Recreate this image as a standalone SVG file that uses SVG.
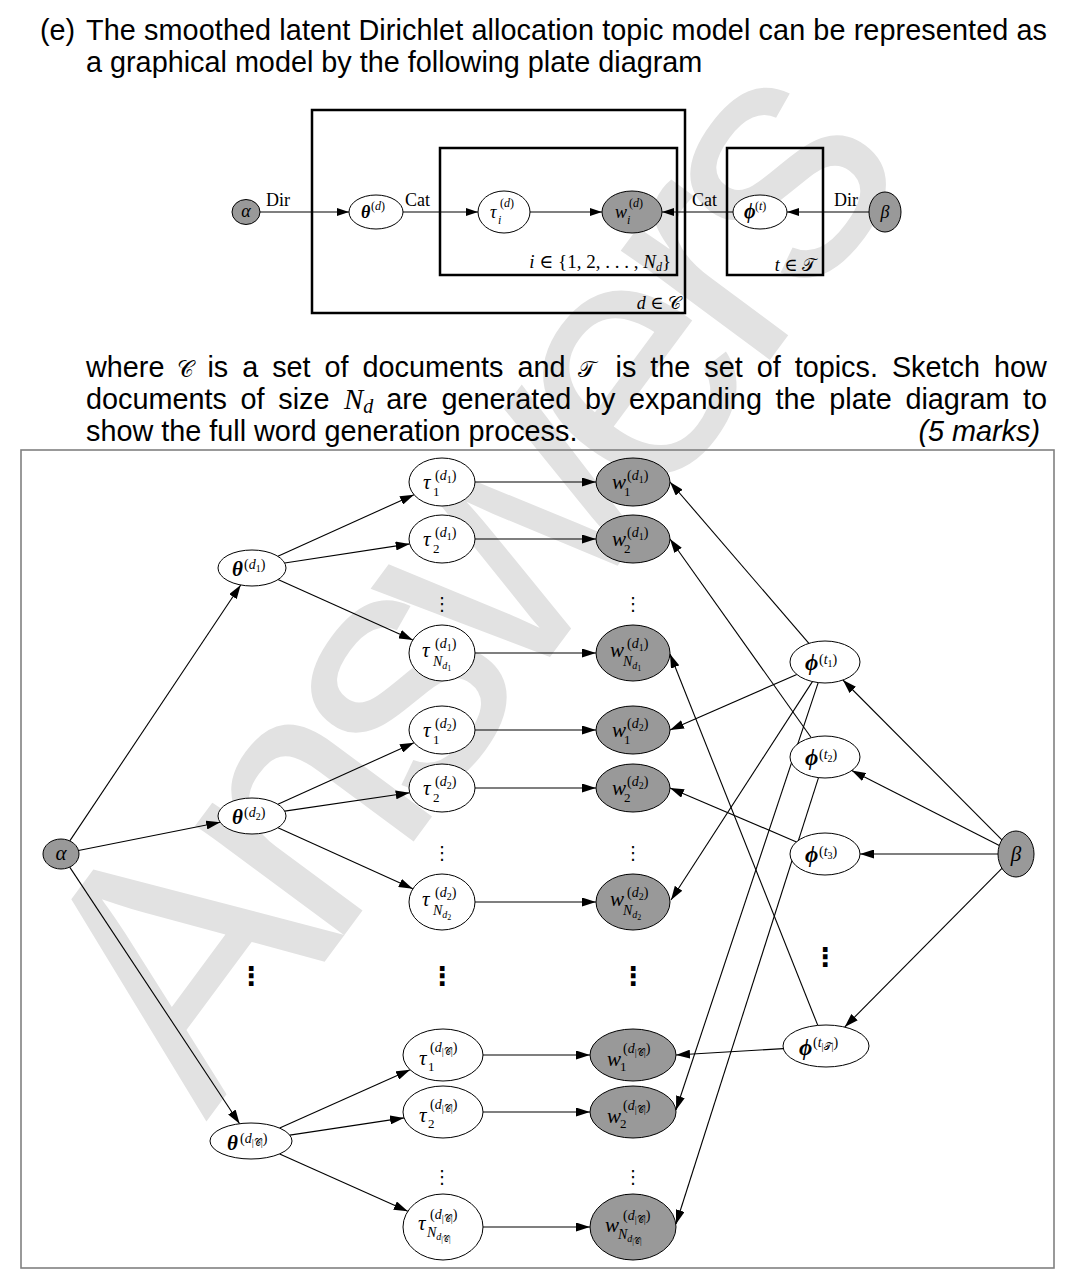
<svg xmlns="http://www.w3.org/2000/svg" width="1074" height="1284" viewBox="0 0 1074 1284">
<style>
.h{font-family:"Liberation Sans",Arial,sans-serif;font-size:28.8px;fill:#000}
.m,.nd text,.tl{font-family:"Liberation Serif","DejaVu Serif",serif;fill:#000}
.cal{font-family:"DejaVu Serif","DejaVu Sans","Liberation Serif",serif;font-style:normal}
.it{font-style:italic}
.up{font-style:normal}
.b20{font-size:21px;font-style:italic}
.bi{font-size:21px;font-style:italic;font-weight:bold}
.phi{font-size:23px;font-style:italic;font-weight:bold}
.s14{font-size:14px}
.s13{font-size:13px}
.s10{font-size:10px}
.s8{font-size:8px}
.t18{font-size:18px}
.t12{font-size:12px}
.wh{fill:#fff;stroke:#000;stroke-width:1}
.gr{fill:#999;stroke:#000;stroke-width:1}
.plate{fill:none;stroke:#000;stroke-width:2.5}
.e{stroke:#000;stroke-width:1.1;fill:none;marker-end:url(#arr)}
.et{stroke:#000;stroke-width:1.1;fill:none;marker-end:url(#arr2)}
.dots{font-family:"DejaVu Sans",sans-serif;text-anchor:middle;fill:#000}
</style>
<defs>
<marker id="arr" markerUnits="userSpaceOnUse" markerWidth="14" markerHeight="9" refX="14" refY="4.5" orient="auto"><path d="M0,0 L14,4.5 L0,9 Z" fill="#000"/></marker>
<marker id="arr2" markerUnits="userSpaceOnUse" markerWidth="12" markerHeight="8" refX="12" refY="4" orient="auto"><path d="M0,0 L12,4 L0,8 Z" fill="#000"/></marker>
</defs>
<rect width="1074" height="1284" fill="#fff"/>
<text id="watermark" x="206" y="1122" transform="rotate(-53.5 206 1122)" font-family="Liberation Sans,Arial,sans-serif" font-size="350" fill="#e2e2e2" textLength="1190" lengthAdjust="spacing">Answers</text>

<g id="question">
<text class="h" x="40" y="40">(e)</text>
<text class="h" x="86" y="40" textLength="961" lengthAdjust="spacing">The smoothed latent Dirichlet allocation topic model can be represented as</text>
<text class="h" x="86" y="72">a graphical model by the following plate diagram</text>
<text class="h" y="377"><tspan x="86">where</tspan><tspan x="177" class="cal" font-size="23">𝒞</tspan><tspan x="207.4">is</tspan><tspan x="242.2">a</tspan><tspan x="272.2">set</tspan><tspan x="324.6">of</tspan><tspan x="362.6">documents</tspan><tspan x="517.5">and</tspan><tspan x="578" class="cal" font-size="23">𝒯</tspan><tspan x="615.5">is</tspan><tspan x="650.3">the</tspan><tspan x="704.3">set</tspan><tspan x="756.7">of</tspan><tspan x="794.7">topics.</tspan><tspan x="891.9">Sketch</tspan><tspan x="993.9">how</tspan></text>
<text class="h" y="409"><tspan x="86">documents</tspan><tspan x="240.6">of</tspan><tspan x="278.3">size</tspan><tspan x="344" class="m it">N</tspan><tspan class="m it" font-size="20" dy="4">d</tspan><tspan x="386.2" y="409">are</tspan><tspan x="441.5">generated</tspan><tspan x="584.9">by</tspan><tspan x="629">expanding</tspan><tspan x="775.6">the</tspan><tspan x="829.3">plate</tspan><tspan x="905.4">diagram</tspan><tspan x="1023.1">to</tspan></text>
<text class="h" x="86" y="441">show the full word generation process.</text>
<text class="h it" x="1040" y="441" text-anchor="end">(5 marks)</text>
</g>

<g id="plate-diagram">
<rect id="plate-d" class="plate" x="312" y="110" width="373" height="203"/>
<rect id="plate-i" class="plate" x="440" y="148" width="237" height="127"/>
<rect id="plate-t" class="plate" x="727" y="148" width="96" height="127"/>
<text class="tl" font-size="19" x="671" y="268" text-anchor="end"><tspan class="it">i</tspan> ∈ {1, 2,  . . . ,  <tspan class="it">N</tspan><tspan class="it t12" dy="3">d</tspan><tspan dy="-3">}</tspan></text>
<text class="tl t18" x="816" y="271" text-anchor="end"><tspan class="it">t</tspan> ∈ <tspan class="cal">𝒯</tspan></text>
<text class="tl t18" x="681" y="309" text-anchor="end"><tspan class="it">d</tspan> ∈ <tspan class="cal">𝒞</tspan></text>
<g id="top-connectors">
<line class="et" x1="260" y1="212" x2="349" y2="212"/>
<line class="et" x1="403" y1="212" x2="478" y2="212"/>
<line class="et" x1="530" y1="212" x2="602" y2="212"/>
<line class="et" x1="733" y1="212" x2="662" y2="212"/>
<line class="et" x1="869" y1="212" x2="787" y2="212"/>
<text class="tl t18" x="266" y="206">Dir</text>
<text class="tl t18" x="405" y="206">Cat</text>
<text class="tl t18" x="692" y="206">Cat</text>
<text class="tl t18" x="834" y="206">Dir</text>
</g>
<g id="top-alpha" class="nd" transform="translate(246,212)"><ellipse class="gr" rx="14" ry="12.5"/><text class="it t18" x="0" y="5" text-anchor="middle">α</text></g>
<g id="top-theta" class="nd" transform="translate(376,212)"><ellipse class="wh" rx="27" ry="17"/><text class="t18" x="-15" y="6" font-style="italic" font-weight="bold">θ</text><text class="t12" x="-5" y="-2">(<tspan class="it">d</tspan>)</text></g>
<g id="top-tau" class="nd" transform="translate(504,212)"><ellipse class="wh" rx="26" ry="21"/><text class="t18 it" x="-14" y="6">τ</text><text class="t12 it" x="-6" y="12">i</text><text class="t12" x="-4" y="-5">(<tspan class="it">d</tspan>)</text></g>
<g id="top-w" class="nd" transform="translate(632,212)"><ellipse class="gr" rx="30" ry="21"/><text class="t18 it" x="-17" y="6">w</text><text class="t12 it" x="-5" y="12">i</text><text class="t12" x="-3" y="-5">(<tspan class="it">d</tspan>)</text></g>
<g id="top-phi" class="nd" transform="translate(760,212)"><ellipse class="wh" rx="27" ry="17"/><text x="-16" y="6" font-size="20" font-style="italic" font-weight="bold">ϕ</text><text class="t12" x="-5" y="-2">(<tspan class="it">t</tspan>)</text></g>
<g id="top-beta" class="nd" transform="translate(885,212)"><ellipse class="gr" rx="16" ry="20"/><text class="it t18" x="0" y="6" text-anchor="middle">β</text></g>
</g>

<rect id="answer-frame" x="21" y="450" width="1033" height="818" fill="none" stroke="#808080" stroke-width="1.6"/>

<g id="connectors">
<line class="e" x1="69.8" y1="840.9" x2="240.7" y2="585"/>
<line class="e" x1="78.5" y1="850.5" x2="220.2" y2="822.3"/>
<line class="e" x1="69.7" y1="867.1" x2="239.6" y2="1123.7"/>
<line class="e" x1="277.9" y1="556.3" x2="414" y2="494.7"/>
<line class="e" x1="284.7" y1="563" x2="409.7" y2="543.9"/>
<line class="e" x1="278" y1="579.6" x2="412.8" y2="639.9"/>
<line class="e" x1="277.9" y1="804.3" x2="414" y2="742.7"/>
<line class="e" x1="284.7" y1="811.1" x2="409.7" y2="792.8"/>
<line class="e" x1="278" y1="827.7" x2="412.8" y2="888.8"/>
<line class="e" x1="279.7" y1="1128.1" x2="410.1" y2="1069.8"/>
<line class="e" x1="289.8" y1="1135.1" x2="404" y2="1117.9"/>
<line class="e" x1="279.7" y1="1153.9" x2="407.8" y2="1211.3"/>
<line class="e" x1="475" y1="482" x2="596" y2="482"/>
<line class="e" x1="475" y1="539" x2="596" y2="539"/>
<line class="e" x1="475" y1="653" x2="596" y2="653"/>
<line class="e" x1="475" y1="730" x2="596" y2="730"/>
<line class="e" x1="475" y1="788" x2="596" y2="788"/>
<line class="e" x1="475" y1="902" x2="596" y2="902"/>
<line class="e" x1="483" y1="1055" x2="590" y2="1055"/>
<line class="e" x1="483" y1="1112" x2="590" y2="1112"/>
<line class="e" x1="483" y1="1227" x2="590" y2="1227"/>
<line class="e" x1="808.9" y1="643.4" x2="670" y2="482"/>
<line class="e" x1="796.8" y1="674.4" x2="670" y2="730"/>
<line class="e" x1="812.4" y1="681.6" x2="671" y2="900"/>
<line class="e" x1="818.2" y1="682.6" x2="676" y2="1110"/>
<line class="e" x1="811.3" y1="737.7" x2="670" y2="539"/>
<line class="e" x1="818.5" y1="777.6" x2="676" y2="1224"/>
<line class="e" x1="796.5" y1="841.9" x2="670" y2="788"/>
<line class="e" x1="783.3" y1="1048.6" x2="676" y2="1055"/>
<line class="e" x1="817.8" y1="1025.4" x2="670" y2="654"/>
<line class="e" x1="1001.9" y1="839.8" x2="842.9" y2="680"/>
<line class="e" x1="999.3" y1="845.5" x2="851.7" y2="770.6"/>
<line class="e" x1="998" y1="854" x2="860" y2="854"/>
<line class="e" x1="1001.9" y1="868.3" x2="844.7" y2="1027.1"/>
</g>

<g id="ellipses">
<text class="dots" x="442" y="610" font-size="18">⋮</text>
<text class="dots" x="633" y="610" font-size="18">⋮</text>
<text class="dots" x="442" y="859" font-size="18">⋮</text>
<text class="dots" x="633" y="859" font-size="18">⋮</text>
<text class="dots" x="442" y="1183" font-size="18">⋮</text>
<text class="dots" x="633" y="1183" font-size="18">⋮</text>
<text class="dots" x="251" y="985" font-size="26" font-weight="bold">⋮</text>
<text class="dots" x="442" y="985" font-size="26" font-weight="bold">⋮</text>
<text class="dots" x="633" y="985" font-size="26" font-weight="bold">⋮</text>
<text class="dots" x="825" y="966" font-size="26" font-weight="bold">⋮</text>
</g>

<g id="alpha" class="nd" transform="translate(61,854)"><ellipse class="gr" rx="18" ry="15"/><text class="b20" x="0" y="6" text-anchor="middle">α</text></g>
<g id="beta" class="nd" transform="translate(1016,854)"><ellipse class="gr" rx="18" ry="23"/><text class="b20" x="0" y="7" text-anchor="middle">β</text></g>

<g id="theta-d1" class="nd" transform="translate(252,568)"><ellipse class="wh" rx="34" ry="18"/><text class="bi" x="-20" y="8">θ</text><text class="s14" x="-8" y="1">(<tspan class="it">d</tspan><tspan class="s10" dy="3">1</tspan><tspan dy="-3">)</tspan></text></g>
<g id="theta-d2" class="nd" transform="translate(252,816)"><ellipse class="wh" rx="34" ry="18"/><text class="bi" x="-20" y="8">θ</text><text class="s14" x="-8" y="1">(<tspan class="it">d</tspan><tspan class="s10" dy="3">2</tspan><tspan dy="-3">)</tspan></text></g>
<g id="theta-dC" class="nd" transform="translate(251,1141)"><ellipse class="wh" rx="41" ry="18"/><text class="bi" x="-24" y="9">θ</text><text class="s14" x="-11" y="2">(<tspan class="it">d</tspan><tspan class="s10" dy="3">|<tspan class="cal">𝒞</tspan>|</tspan><tspan dy="-3">)</tspan></text></g>

<g id="tau-d1-1" class="nd" transform="translate(442,482)"><ellipse class="wh" rx="33" ry="24"/><text class="b20" x="-19" y="7">τ</text><text class="s13" x="-9" y="14">1</text><text class="s14" x="-7" y="-2">(<tspan class="it">d</tspan><tspan class="s10" dy="3">1</tspan><tspan dy="-3">)</tspan></text></g>
<g id="tau-d1-2" class="nd" transform="translate(442,539)"><ellipse class="wh" rx="33" ry="24"/><text class="b20" x="-19" y="7">τ</text><text class="s13" x="-9" y="14">2</text><text class="s14" x="-7" y="-2">(<tspan class="it">d</tspan><tspan class="s10" dy="3">1</tspan><tspan dy="-3">)</tspan></text></g>
<g id="tau-d1-N" class="nd" transform="translate(442,653)"><ellipse class="wh" rx="33" ry="28"/><text class="b20" x="-20" y="4">τ</text><text class="s14" x="-7" y="-5">(<tspan class="it">d</tspan><tspan class="s10" dy="3">1</tspan><tspan dy="-3">)</tspan></text><text class="s14 it" x="-9" y="13">N<tspan class="s10" dy="3">d</tspan><tspan class="s8 up" dy="2">1</tspan></text></g>
<g id="tau-d2-1" class="nd" transform="translate(442,730)"><ellipse class="wh" rx="33" ry="24"/><text class="b20" x="-19" y="7">τ</text><text class="s13" x="-9" y="14">1</text><text class="s14" x="-7" y="-2">(<tspan class="it">d</tspan><tspan class="s10" dy="3">2</tspan><tspan dy="-3">)</tspan></text></g>
<g id="tau-d2-2" class="nd" transform="translate(442,788)"><ellipse class="wh" rx="33" ry="24"/><text class="b20" x="-19" y="7">τ</text><text class="s13" x="-9" y="14">2</text><text class="s14" x="-7" y="-2">(<tspan class="it">d</tspan><tspan class="s10" dy="3">2</tspan><tspan dy="-3">)</tspan></text></g>
<g id="tau-d2-N" class="nd" transform="translate(442,902)"><ellipse class="wh" rx="33" ry="28"/><text class="b20" x="-20" y="4">τ</text><text class="s14" x="-7" y="-5">(<tspan class="it">d</tspan><tspan class="s10" dy="3">2</tspan><tspan dy="-3">)</tspan></text><text class="s14 it" x="-9" y="13">N<tspan class="s10" dy="3">d</tspan><tspan class="s8 up" dy="2">2</tspan></text></g>
<g id="tau-dC-1" class="nd" transform="translate(443,1055)"><ellipse class="wh" rx="40" ry="26"/><text class="b20" x="-24" y="10">τ</text><text class="s13" x="-15" y="16">1</text><text class="s14" x="-13" y="-3">(<tspan class="it">d</tspan><tspan class="s10" dy="3">|<tspan class="cal">𝒞</tspan>|</tspan><tspan dy="-3">)</tspan></text></g>
<g id="tau-dC-2" class="nd" transform="translate(443,1112)"><ellipse class="wh" rx="40" ry="26"/><text class="b20" x="-24" y="10">τ</text><text class="s13" x="-15" y="16">2</text><text class="s14" x="-13" y="-3">(<tspan class="it">d</tspan><tspan class="s10" dy="3">|<tspan class="cal">𝒞</tspan>|</tspan><tspan dy="-3">)</tspan></text></g>
<g id="tau-dC-N" class="nd" transform="translate(443,1227)"><ellipse class="wh" rx="40" ry="33"/><text class="b20" x="-25" y="3">τ</text><text class="s14" x="-13" y="-8">(<tspan class="it">d</tspan><tspan class="s10" dy="3">|<tspan class="cal">𝒞</tspan>|</tspan><tspan dy="-3">)</tspan></text><text class="s14 it" x="-16" y="10">N<tspan class="s10" dy="3">d</tspan><tspan class="s8 up" dy="2">|<tspan class="cal">𝒞</tspan>|</tspan></text></g>

<g id="w-d1-1" class="nd" transform="translate(633,482)"><ellipse class="gr" rx="37" ry="24"/><text class="b20" x="-21" y="7">w</text><text class="s13" x="-9" y="14">1</text><text class="s14" x="-6" y="-2">(<tspan class="it">d</tspan><tspan class="s10" dy="3">1</tspan><tspan dy="-3">)</tspan></text></g>
<g id="w-d1-2" class="nd" transform="translate(633,539)"><ellipse class="gr" rx="37" ry="24"/><text class="b20" x="-21" y="7">w</text><text class="s13" x="-9" y="14">2</text><text class="s14" x="-6" y="-2">(<tspan class="it">d</tspan><tspan class="s10" dy="3">1</tspan><tspan dy="-3">)</tspan></text></g>
<g id="w-d1-N" class="nd" transform="translate(633,653)"><ellipse class="gr" rx="37" ry="28"/><text class="b20" x="-23" y="4">w</text><text class="s14" x="-6" y="-5">(<tspan class="it">d</tspan><tspan class="s10" dy="3">1</tspan><tspan dy="-3">)</tspan></text><text class="s14 it" x="-10" y="13">N<tspan class="s10" dy="3">d</tspan><tspan class="s8 up" dy="2">1</tspan></text></g>
<g id="w-d2-1" class="nd" transform="translate(633,730)"><ellipse class="gr" rx="37" ry="24"/><text class="b20" x="-21" y="7">w</text><text class="s13" x="-9" y="14">1</text><text class="s14" x="-6" y="-2">(<tspan class="it">d</tspan><tspan class="s10" dy="3">2</tspan><tspan dy="-3">)</tspan></text></g>
<g id="w-d2-2" class="nd" transform="translate(633,788)"><ellipse class="gr" rx="37" ry="24"/><text class="b20" x="-21" y="7">w</text><text class="s13" x="-9" y="14">2</text><text class="s14" x="-6" y="-2">(<tspan class="it">d</tspan><tspan class="s10" dy="3">2</tspan><tspan dy="-3">)</tspan></text></g>
<g id="w-d2-N" class="nd" transform="translate(633,902)"><ellipse class="gr" rx="37" ry="28"/><text class="b20" x="-23" y="4">w</text><text class="s14" x="-6" y="-5">(<tspan class="it">d</tspan><tspan class="s10" dy="3">2</tspan><tspan dy="-3">)</tspan></text><text class="s14 it" x="-10" y="13">N<tspan class="s10" dy="3">d</tspan><tspan class="s8 up" dy="2">2</tspan></text></g>
<g id="w-dC-1" class="nd" transform="translate(633,1055)"><ellipse class="gr" rx="43" ry="26"/><text class="b20" x="-26" y="11">w</text><text class="s13" x="-13" y="16">1</text><text class="s14" x="-10" y="-2">(<tspan class="it">d</tspan><tspan class="s10" dy="3">|<tspan class="cal">𝒞</tspan>|</tspan><tspan dy="-3">)</tspan></text></g>
<g id="w-dC-2" class="nd" transform="translate(633,1112)"><ellipse class="gr" rx="43" ry="26"/><text class="b20" x="-26" y="11">w</text><text class="s13" x="-13" y="16">2</text><text class="s14" x="-10" y="-2">(<tspan class="it">d</tspan><tspan class="s10" dy="3">|<tspan class="cal">𝒞</tspan>|</tspan><tspan dy="-3">)</tspan></text></g>
<g id="w-dC-N" class="nd" transform="translate(633,1227)"><ellipse class="gr" rx="43" ry="33"/><text class="b20" x="-28" y="5">w</text><text class="s14" x="-10" y="-7">(<tspan class="it">d</tspan><tspan class="s10" dy="3">|<tspan class="cal">𝒞</tspan>|</tspan><tspan dy="-3">)</tspan></text><text class="s14 it" x="-15" y="12">N<tspan class="s10" dy="3">d</tspan><tspan class="s8 up" dy="2">|<tspan class="cal">𝒞</tspan>|</tspan></text></g>

<g id="phi-t1" class="nd" transform="translate(825,662)"><ellipse class="wh" rx="35" ry="21"/><text class="phi" x="-20" y="8">ϕ</text><text class="s14" x="-6" y="2">(<tspan class="it">t</tspan><tspan class="s10" dy="3">1</tspan><tspan dy="-3">)</tspan></text></g>
<g id="phi-t2" class="nd" transform="translate(825,757)"><ellipse class="wh" rx="35" ry="21"/><text class="phi" x="-20" y="8">ϕ</text><text class="s14" x="-6" y="2">(<tspan class="it">t</tspan><tspan class="s10" dy="3">2</tspan><tspan dy="-3">)</tspan></text></g>
<g id="phi-t3" class="nd" transform="translate(825,854)"><ellipse class="wh" rx="35" ry="21"/><text class="phi" x="-20" y="8">ϕ</text><text class="s14" x="-6" y="2">(<tspan class="it">t</tspan><tspan class="s10" dy="3">3</tspan><tspan dy="-3">)</tspan></text></g>
<g id="phi-tT" class="nd" transform="translate(826,1046)"><ellipse class="wh" rx="43" ry="21"/><text class="phi" x="-27" y="9">ϕ</text><text class="s14" x="-13" y="1">(<tspan class="it">t</tspan><tspan class="s10" dy="3">|<tspan class="cal">𝒯</tspan>|</tspan><tspan dy="-3">)</tspan></text></g>
</svg>
